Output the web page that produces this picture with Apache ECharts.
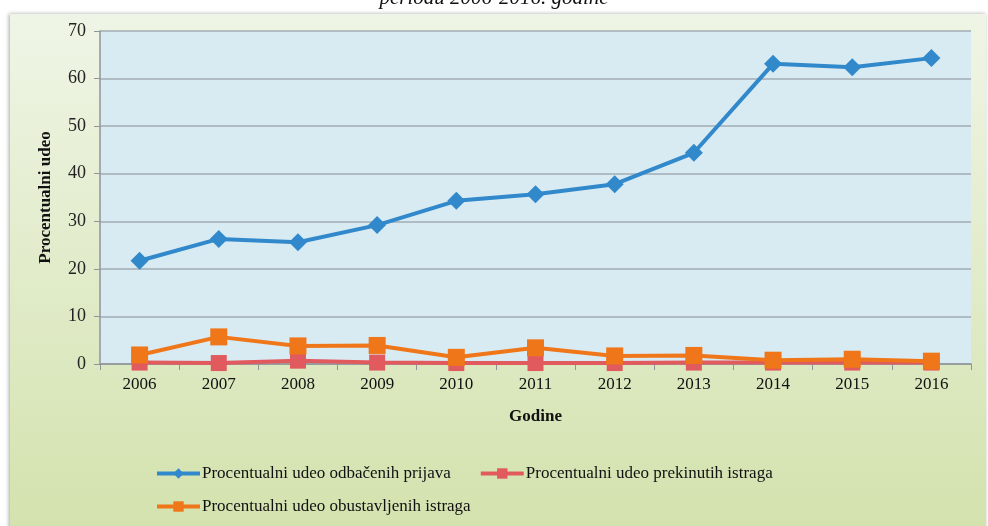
<!DOCTYPE html>
<html>
<head>
<meta charset="utf-8">
<script src="https://cdn.jsdelivr.net/npm/echarts@6/dist/echarts.min.js"></script>
<style>
  html, body { margin: 0; padding: 0; background: #fff; }
  #chart { width: 988px; height: 526px; }
</style>
</head>
<body>
<div id="chart"></div>
<script>
const years = ['2006', '2007', '2008', '2009', '2010', '2011', '2012', '2013', '2014', '2015', '2016']
const odbacenih = [21.7, 26.3, 25.6, 29.2, 34.3, 35.7, 37.8, 44.4, 63.1, 62.4, 64.3]
const prekinutih = [0.3, 0.2, 0.7, 0.3, 0.2, 0.2, 0.2, 0.3, 0.3, 0.3, 0.3]
const obustavljenih = [1.9, 5.7, 3.8, 3.9, 1.4, 3.4, 1.7, 1.8, 0.8, 1.0, 0.6]
const yTicks = [0, 10, 20, 30, 40, 50, 60, 70]

const names = [
  'Procentualni udeo odbačenih prijava',
  'Procentualni udeo prekinutih istraga',
  'Procentualni udeo obustavljenih istraga'
]
const serif = '"Liberation Serif", "DejaVu Serif", serif'

const chart = echarts.init(document.getElementById('chart'))
const legendText = { color: '#111', fontSize: 17, fontFamily: serif, padding: [0, 0, 0, -3] }

const option = {
  animation: false,
  color: ['#3189cb', '#e15a5e', '#ef7719'],
  graphic: [
    {
      type: 'rect',
      shape: { x: 10, y: 14, width: 976, height: 520 },
      style: {
        fill: {
          type: 'linear', x: 0, y: 0, x2: 0, y2: 1,
          colorStops: [
            { offset: 0, color: '#eff5e6' },
            { offset: 1, color: '#d3e2ad' }
          ]
        },
        shadowColor: 'rgba(0,0,0,0.35)',
        shadowBlur: 4,
        shadowOffsetX: -1
      },
      z: -10
    },
    {
      type: 'text',
      left: 'center',
      top: -12,
      style: {
        text: 'periodu 2006-2016. godine',
        font: 'italic 21px ' + serif,
        fill: '#111'
      }
    }
  ],
  grid: {
    show: true,
    left: 100,
    right: 17,
    top: 31,
    bottom: 162,
    backgroundColor: '#d8ebf3',
    borderWidth: 0
  },
  legend: [
    {
      data: [names[0], names[1]],
      left: 150,
      top: 460,
      itemWidth: 43,
      itemHeight: 13,
      itemGap: 28,
      lineStyle: { width: 4 },
      textStyle: legendText
    },
    {
      data: [names[2]],
      left: 150,
      top: 493,
      itemWidth: 43,
      itemHeight: 13,
      lineStyle: { width: 4 },
      textStyle: legendText
    }
  ],
  xAxis: {
    type: 'category',
    data: years,
    name: 'Godine',
    nameLocation: 'middle',
    nameGap: 44,
    nameTextStyle: { fontFamily: serif, fontSize: 17, fontWeight: 'bold', color: '#111' },
    axisLine: { lineStyle: { color: '#8e9498', width: 1.5 } },
    axisTick: { show: true, length: 6, lineStyle: { color: '#8e9498' } },
    axisLabel: { fontFamily: serif, fontSize: 17, color: '#111', margin: 12 }
  },
  yAxis: {
    type: 'value',
    min: 0,
    max: 70,
    interval: 10,
    name: 'Procentualni udeo',
    nameLocation: 'middle',
    nameGap: 46,
    nameTextStyle: { fontFamily: serif, fontSize: 17, fontWeight: 'bold', color: '#111' },
    axisLine: { show: true, lineStyle: { color: '#8e9498', width: 1.5 } },
    axisTick: { show: true, length: 6, lineStyle: { color: '#8e9498' } },
    axisLabel: {
      fontFamily: serif, fontSize: 18, color: '#222', margin: 14,
      formatter: v => (yTicks.includes(v) ? String(v) : '')
    },
    splitLine: { lineStyle: { color: '#a3adb3', width: 1.5 } }
  },
  series: [
    {
      name: names[0],
      type: 'line',
      data: odbacenih,
      symbol: 'diamond',
      symbolSize: 18,
      lineStyle: { width: 4 },
      itemStyle: { color: '#3189cb' }
    },
    {
      name: names[1],
      type: 'line',
      data: prekinutih,
      symbol: 'rect',
      symbolSize: 16,
      lineStyle: { width: 4 },
      itemStyle: { color: '#e15a5e' }
    },
    {
      name: names[2],
      type: 'line',
      data: obustavljenih,
      symbol: 'rect',
      symbolSize: 17,
      lineStyle: { width: 4 },
      itemStyle: { color: '#ef7719' }
    }
  ]
}
chart.setOption(option)
</script>
</body>
</html>
